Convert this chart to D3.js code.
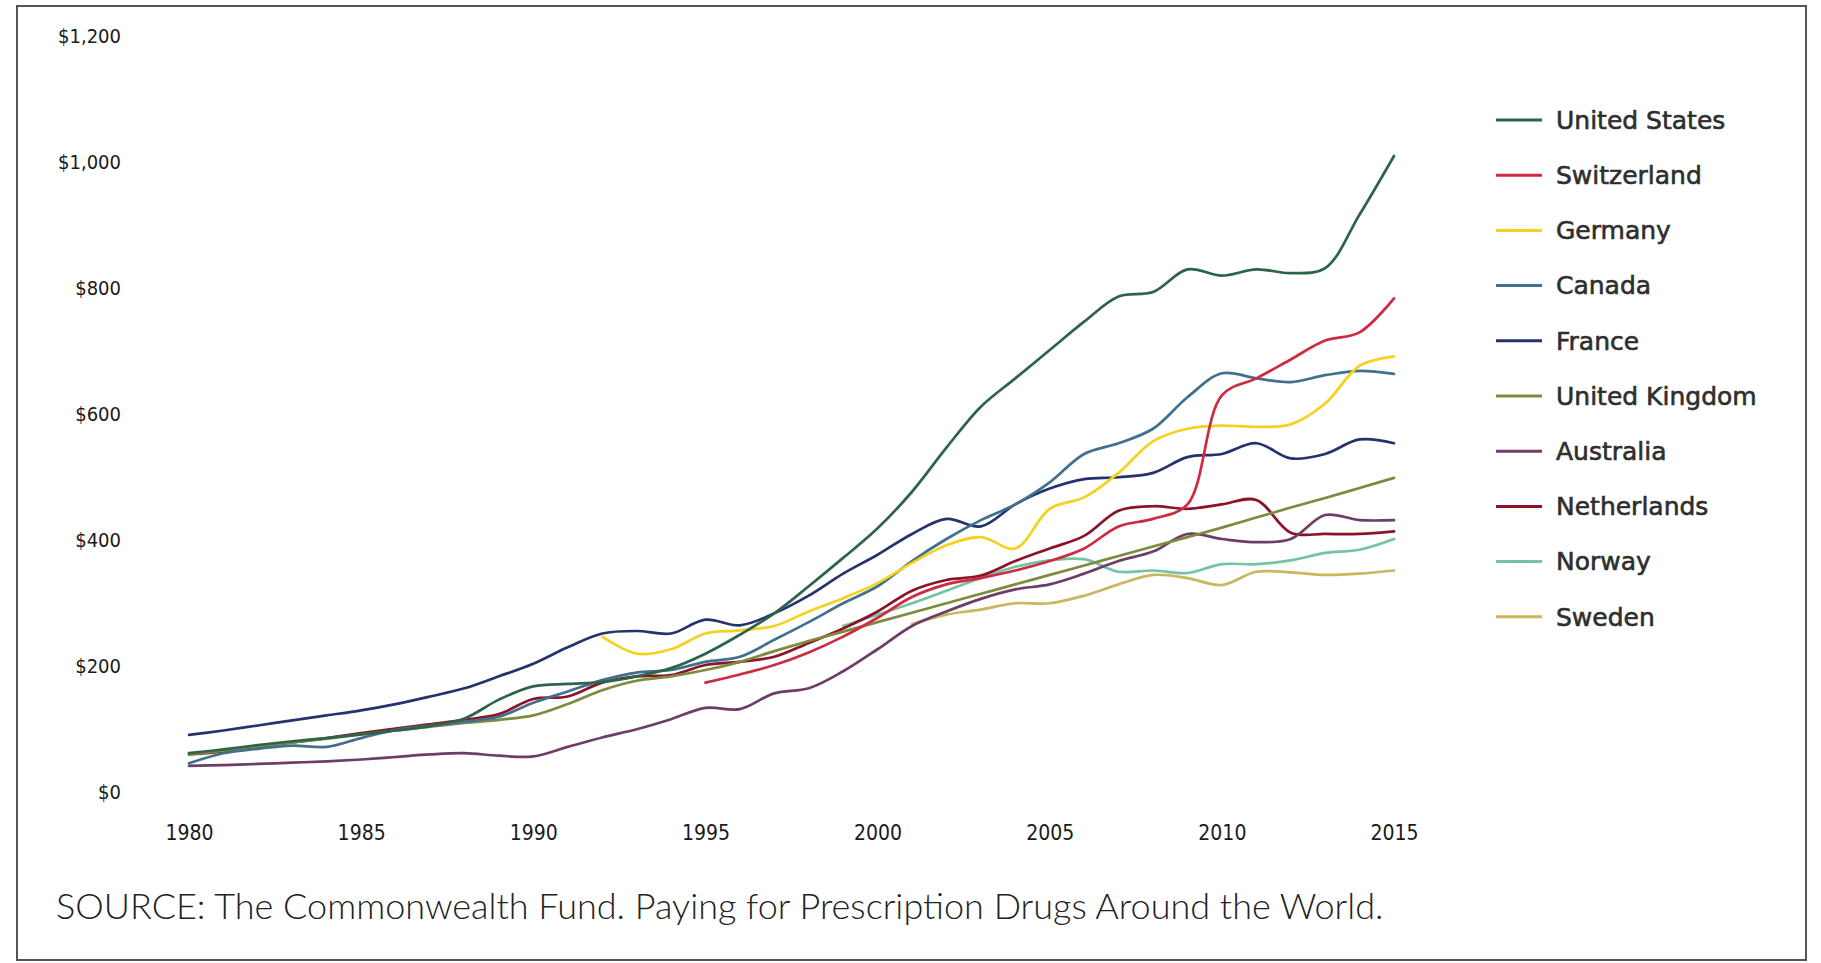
<!DOCTYPE html>
<html>
<head>
<meta charset="utf-8">
<script src="https://cdn.jsdelivr.net/npm/d3@7"></script>
<style>
  html, body { margin: 0; padding: 0; background: #ffffff; }
  svg { display: block; }
</style>
</head>
<body>
<svg id="chart" width="1821" height="963"></svg>
<script>
// Per-capita spending on prescription drugs, 1980–2015 (US$)
const years = [1980,1981,1982,1983,1984,1985,1986,1987,1988,1989,
               1990,1991,1992,1993,1994,1995,1996,1997,1998,1999,
               2000,2001,2002,2003,2004,2005,2006,2007,2008,2009,
               2010,2011,2012,2013,2014,2015];

const countries = ["United States","Switzerland","Germany","Canada","France",
                   "United Kingdom","Australia","Netherlands","Norway","Sweden"];

const unitedStates = [60,66,73,79,84,90,96,103,115,145,
                      166,170,173,182,195,218,248,282,325,370,
                      417,475,545,610,655,700,745,785,792,828,
                      818,828,822,830,915,1008];
const switzerland = [null,null,null,null,null,null,null,null,null,null,
                     null,null,null,null,null,172,185,200,220,245,
                     275,308,328,338,350,365,385,420,432,455,
                     628,655,685,715,728,782];
const germany = [null,null,null,null,null,null,null,null,null,null,
                 null,null,245,218,225,250,255,262,285,306,
                 330,362,390,403,385,448,466,505,555,575,
                 580,578,582,615,675,690];
const canada = [44,60,67,72,70,84,97,104,110,118,
                140,158,176,188,192,205,213,240,268,298,
                325,365,400,430,455,490,535,552,575,625,
                663,655,649,660,667,662];
const france = [89,96,104,112,120,128,138,150,163,182,
                202,228,250,254,250,272,263,282,310,345,
                375,408,432,420,455,480,495,498,505,530,
                535,552,528,535,558,552];
const unitedKingdom = [58,64,71,77,83,90,96,102,108,113,
                       120,138,160,175,182,192,205,222,238,253,
                       268,283,298,313,328,343,358,373,388,403,
                       418,434,450,465,481,497];
const australia = [40,41,43,45,47,50,54,58,60,56,
                   55,70,85,98,114,132,130,155,163,190,
                   225,262,285,305,320,328,345,365,380,408,
                   400,395,400,438,430,430];
const netherlands = [58,63,70,77,84,92,99,106,113,122,
                     146,150,172,182,184,200,205,213,235,258,
                     285,318,335,342,365,385,405,445,452,448,
                     455,462,410,408,408,412];
const norway = [null,null,null,null,null,null,null,null,null,null,
                null,null,null,null,null,null,null,null,null,262,
                280,298,318,338,356,366,368,348,350,346,
                360,360,366,378,383,400];
const sweden = [null,null,null,null,null,null,null,null,null,null,
                null,null,null,null,null,null,null,null,null,null,
                null,265,280,288,298,298,310,328,343,338,
                327,348,347,343,345,350];

const seriesValues = [unitedStates, switzerland, germany, canada, france,
                      unitedKingdom, australia, netherlands, norway, sweden];

const colors = ["#2b6547","#cf2a40","#f6d21e","#41708f","#24326d",
                "#7e8a3d","#6d3d69","#8c1428","#74c3a2","#cbb55d"];

const yTicks = [0,200,400,600,800,1000,1200];
const xTicks = [1980,1985,1990,1995,2000,2005,2010,2015];

const sourceText = "SOURCE: The Commonwealth Fund. Paying for Prescription Drugs Around the World.";

const svg = d3.select("#chart");

// outer frame
svg.append("rect")
  .attr("x", 17).attr("y", 6)
  .attr("width", 1789).attr("height", 954)
  .attr("fill", "#ffffff")
  .attr("stroke", "#555555")
  .attr("stroke-width", 2);

const x = d3.scaleLinear().domain([1980, 2015]).range([189, 1394]);
const y = d3.scaleLinear().domain([0, 1200]).range([791, 35]);

const tickFont = "'DejaVu Sans Condensed','DejaVu Sans',sans-serif";

// y axis (labels only)
const yAxis = d3.axisLeft(y)
  .tickValues(yTicks)
  .tickSize(0)
  .tickPadding(0)
  .tickFormat(d => "$" + d3.format(",")(d));
const gy = svg.append("g").attr("transform", "translate(121,0)").call(yAxis);
gy.select(".domain").remove();
gy.selectAll("text")
  .attr("font-family", tickFont)
  .attr("font-size", 20)
  .attr("fill", "#1a1a1a")
  .attr("dy", "0.35em");

// x axis (labels only)
const xAxis = d3.axisBottom(x)
  .tickValues(xTicks)
  .tickSize(0)
  .tickPadding(0)
  .tickFormat(d3.format("d"));
const gx = svg.append("g").attr("transform", "translate(0,833)").call(xAxis);
gx.select(".domain").remove();
gx.selectAll("text")
  .attr("font-family", tickFont)
  .attr("font-size", 21)
  .attr("fill", "#1a1a1a")
  .attr("dy", "0.35em");

// series lines
const line = d3.line()
  .defined(d => d.v !== null)
  .x(d => x(d.year))
  .y(d => y(d.v))
  .curve(d3.curveCatmullRom.alpha(0.5));

const plotOrder = [9, 8, 7, 6, 5, 4, 3, 2, 1, 0];
svg.append("g")
  .selectAll("path")
  .data(plotOrder)
  .join("path")
  .attr("d", i => line(years.map((yr, k) => ({ year: yr, v: seriesValues[i][k] }))))
  .attr("fill", "none")
  .attr("stroke", i => colors[i])
  .attr("stroke-width", 2.7)
  .attr("stroke-linejoin", "round")
  .attr("stroke-linecap", "round");

// legend
const legend = svg.append("g").attr("transform", "translate(1496,120)");
const rows = legend.selectAll("g")
  .data(countries)
  .join("g")
  .attr("transform", (d, i) => `translate(0,${i * 55.2})`);
rows.append("line")
  .attr("x1", 0).attr("x2", 46)
  .attr("y1", 0).attr("y2", 0)
  .attr("stroke", (d, i) => colors[i])
  .attr("stroke-width", 3);
rows.append("text")
  .attr("x", 60)
  .attr("dy", "0.35em")
  .attr("font-family", "'DejaVu Sans',sans-serif")
  .attr("font-size", 25)
  .attr("fill", "#2e2e2e")
  .attr("stroke", "#2e2e2e")
  .attr("stroke-width", 0.6)
  .text(d => d);

// source note
svg.append("text")
  .attr("x", 56).attr("y", 906)
  .attr("dy", "0.35em")
  .attr("font-family", "Lato, 'Open Sans', sans-serif")
  .attr("font-weight", 300)
  .attr("font-size", 36)
  .attr("fill", "#222")
  .text(sourceText);
</script>
</body>
</html>
